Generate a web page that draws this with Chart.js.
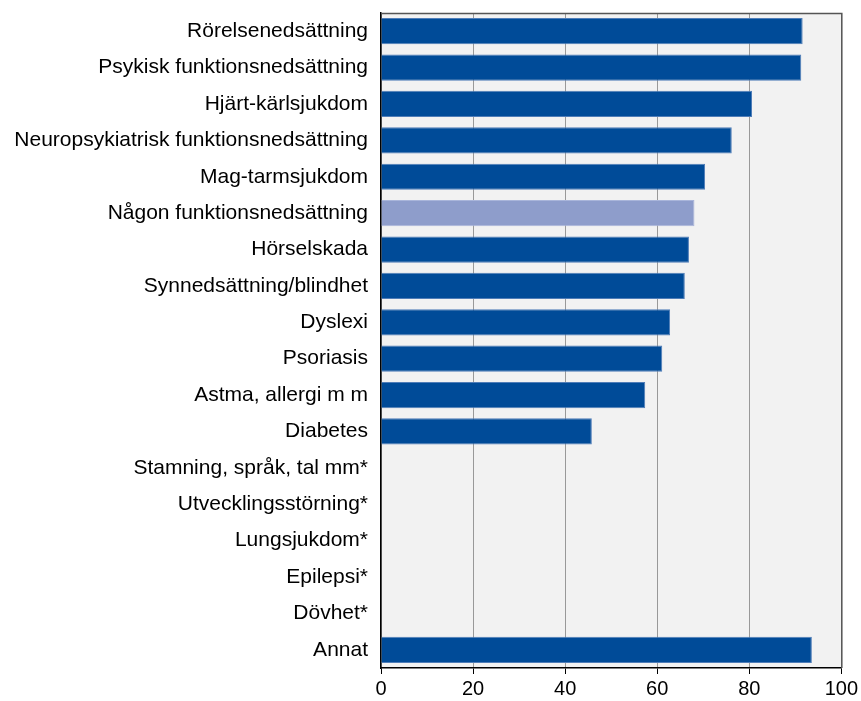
<!DOCTYPE html>
<html><head><meta charset="utf-8">
<script src="https://cdn.jsdelivr.net/npm/chart.js@4/dist/chart.umd.min.js"></script>
<style>html,body{margin:0;padding:0;background:#fff}#wrap{width:861px;height:701px}</style>
</head><body><div id="wrap"><canvas id="c" width="861" height="701"></canvas></div>
<script>
const categories = ["Rörelsenedsättning","Psykisk funktionsnedsättning","Hjärt-kärlsjukdom","Neuropsykiatrisk funktionsnedsättning","Mag-tarmsjukdom","Någon funktionsnedsättning","Hörselskada","Synnedsättning/blindhet","Dyslexi","Psoriasis","Astma, allergi m m","Diabetes","Stamning, språk, tal mm*","Utvecklingsstörning*","Lungsjukdom*","Epilepsi*","Dövhet*","Annat"];
const values = [91.6, 91.3, 80.6, 76.2, 70.4, 68.1, 66.9, 66.0, 62.8, 61.1, 57.4, 45.8, null, null, null, null, null, 93.6];
const highlightCategory = "Någon funktionsnedsättning";
const xTicks = [0, 20, 40, 60, 80, 100];

const darkBlue = '#004B98', lightBlue = '#8E9DCB';
const bgPlugin = {
  id: 'bg',
  beforeDraw(chart) {
    const {ctx, chartArea: a} = chart;
    ctx.save(); ctx.fillStyle = '#F2F2F2';
    ctx.fillRect(a.left, a.top, a.right - a.left, a.bottom - a.top);
    ctx.restore();
  },
  afterDraw(chart) {
    const {ctx, chartArea: a} = chart;
    ctx.save(); ctx.strokeStyle = '#555'; ctx.lineWidth = 1.5;
    ctx.beginPath(); ctx.moveTo(a.left, a.top + 0.5); ctx.lineTo(a.right + 0.5, a.top + 0.5); ctx.lineTo(a.right + 0.5, a.bottom); ctx.stroke();
    ctx.restore();
  }
};
new Chart(document.getElementById('c'), {
  type: 'bar',
  data: {
    labels: categories,
    datasets: [{
      data: values,
      backgroundColor: categories.map(c => c === highlightCategory ? lightBlue : darkBlue),
      borderColor: categories.map(c => c === highlightCategory ? '#A9B5DA' : '#4F7DB8'),
      borderWidth: 1,
      barPercentage: 0.72, categoryPercentage: 1.0
    }]
  },
  options: {
    indexAxis: 'y', responsive: false, animation: false,
    layout: {padding: {left: 0, right: 19, top: 13, bottom: 0}},
    plugins: {legend: {display: false}, tooltip: {enabled: false}},
    scales: {
      x: {
        min: 0, max: 100,
        afterBuildTicks(s) { s.ticks = xTicks.map(v => ({value: v})); },
        grid: {color: '#999', lineWidth: 1, drawTicks: true, tickLength: 6, tickColor: '#000'},
        border: {display: true, color: '#000', width: 1.5},
        ticks: {color: '#000', font: {family: 'Liberation Sans', size: 20}, padding: 3},
        afterFit(s) { s.height = 33; }
      },
      y: {
        grid: {display: false, drawTicks: false},
        border: {display: true, color: '#000', width: 1.5},
        ticks: {color: '#000', font: {family: 'Liberation Sans', size: 21}, padding: 13, autoSkip: false},
        afterFit(s) { s.width = 381; s.paddingTop = 0; s.paddingBottom = 0; }
      }
    }
  },
  plugins: [bgPlugin]
});
</script></body></html>
